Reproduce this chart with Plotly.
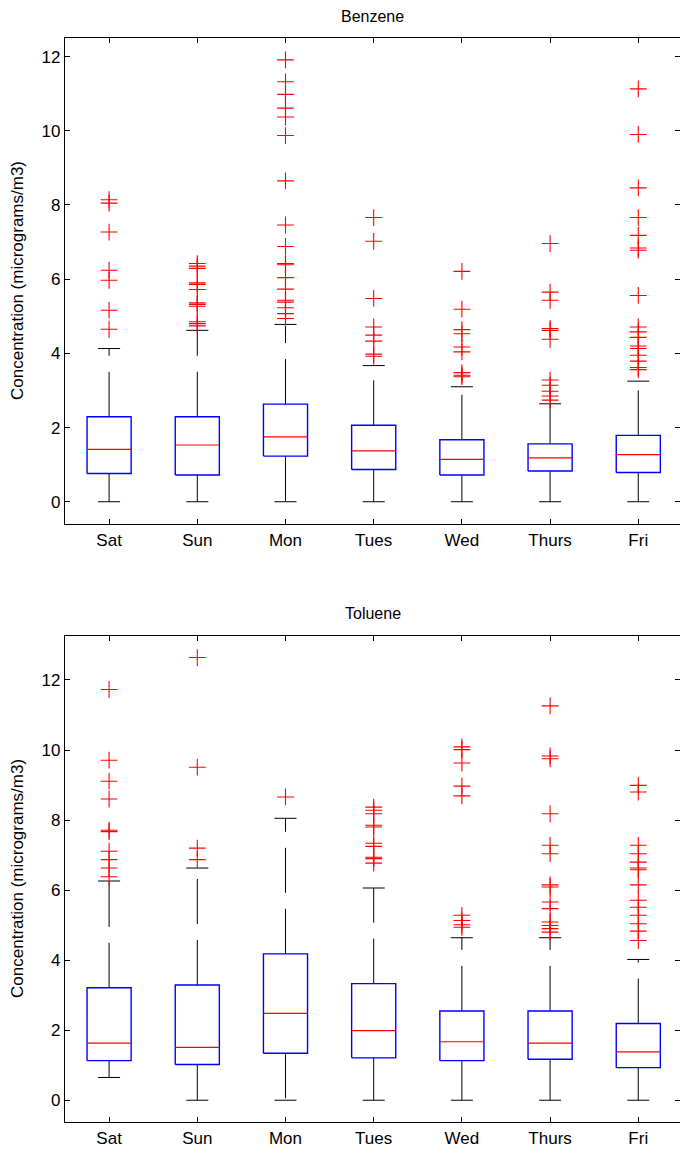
import plotly.graph_objects as go
from plotly.subplots import make_subplots

days = ["Sat", "Sun", "Mon", "Tues", "Wed", "Thurs", "Fri"]
y_ticks = [0, 2, 4, 6, 8, 10, 12]

# Benzene box statistics per day
benz_q1 = [0.76, 0.72, 1.23, 0.87, 0.72, 0.83, 0.79]
benz_med = [1.41, 1.53, 1.75, 1.37, 1.14, 1.18, 1.27]
benz_q3 = [2.29, 2.29, 2.63, 2.06, 1.67, 1.56, 1.79]
benz_lo = [0.0, 0.0, 0.0, 0.0, 0.0, 0.0, 0.0]
benz_hi = [4.13, 4.62, 4.78, 3.67, 3.10, 2.64, 3.25]
benz_out = [
    [8.14, 8.05, 7.27, 6.24, 5.97, 5.16, 4.65],
    [6.42, 6.35, 6.29, 5.90, 5.86, 5.72, 5.36, 5.32, 5.27, 4.85, 4.80, 4.74],
    [11.91, 11.32, 10.98, 10.61, 10.37, 9.87, 8.65, 7.46, 6.88, 6.42, 6.39,
     6.04, 5.73, 5.43, 5.38, 5.23, 5.07, 4.94],
    [7.66, 7.02, 5.48, 4.71, 4.49, 4.33, 3.98, 3.92],
    [6.21, 5.19, 4.64, 4.53, 4.17, 4.04, 3.48, 3.41, 3.37],
    [6.96, 5.65, 5.43, 4.67, 4.62, 4.38, 3.28, 3.14, 2.98, 2.85, 2.74],
    [11.13, 9.90, 8.46, 7.66, 7.18, 6.84, 6.78, 5.56, 4.71, 4.58, 4.43, 4.20,
     4.13, 3.95, 3.79, 3.62, 3.56],
]

# Toluene box statistics per day
tol_q1 = [1.13, 1.02, 1.34, 1.21, 1.13, 1.17, 0.93]
tol_med = [1.63, 1.51, 2.48, 1.99, 1.67, 1.63, 1.38]
tol_q3 = [3.21, 3.29, 4.18, 3.33, 2.55, 2.55, 2.19]
tol_lo = [0.65, 0.0, 0.0, 0.0, 0.0, 0.0, 0.0]
tol_hi = [6.26, 6.63, 8.05, 6.06, 4.64, 4.64, 4.02]
tol_out = [
    [11.73, 9.71, 9.11, 8.60, 7.71, 7.67, 7.11, 6.87, 6.63, 6.38],
    [12.64, 9.51, 7.20, 6.87],
    [8.66],
    [8.37, 8.28, 8.18, 7.85, 7.80, 7.34, 7.25, 6.94, 6.90, 6.77],
    [10.09, 10.01, 9.63, 8.97, 8.69, 5.28, 5.13, 5.01, 4.94],
    [11.26, 9.83, 9.75, 8.18, 7.28, 7.04, 6.15, 6.09, 5.66, 5.47, 5.09, 4.99,
     4.90, 4.80],
    [8.99, 8.80, 7.28, 7.04, 6.80, 6.63, 6.58, 6.15, 5.71, 5.51, 5.28, 5.04,
     4.83, 4.56],
]

panels = [
    ("Benzene", benz_q1, benz_med, benz_q3, benz_lo, benz_hi, benz_out, [-0.6, 12.5]),
    ("Toluene", tol_q1, tol_med, tol_q3, tol_lo, tol_hi, tol_out, [-0.63, 13.27]),
]

BOX_HALF = 0.25
CAP_HALF = 0.125
FONT = "Liberation Sans, Arial, sans-serif"

fig = make_subplots(rows=2, cols=1, vertical_spacing=0.1)

for row, (name, q1, med, q3, lo, hi, outs, yr) in enumerate(panels, start=1):
    for i in range(len(days)):
        x = i + 1
        # whiskers, dashed, drawn outward from the box
        for start, end in ((q3[i], hi[i]), (q1[i], lo[i])):
            fig.add_trace(go.Scatter(
                x=[x, x], y=[start, end], mode="lines",
                line=dict(color="black", width=1, dash="45px,16px"),
                hoverinfo="skip", showlegend=False), row=row, col=1)
        # whisker caps
        for v in (hi[i], lo[i]):
            fig.add_trace(go.Scatter(
                x=[x - CAP_HALF, x + CAP_HALF], y=[v, v], mode="lines",
                line=dict(color="black", width=1),
                hoverinfo="skip", showlegend=False), row=row, col=1)
        # box
        fig.add_trace(go.Scatter(
            x=[x - BOX_HALF, x + BOX_HALF, x + BOX_HALF, x - BOX_HALF, x - BOX_HALF],
            y=[q1[i], q1[i], q3[i], q3[i], q1[i]], mode="lines",
            line=dict(color="#0000ff", width=1.4),
            hoverinfo="skip", showlegend=False), row=row, col=1)
        # median
        fig.add_trace(go.Scatter(
            x=[x - BOX_HALF, x + BOX_HALF], y=[med[i], med[i]], mode="lines",
            line=dict(color="#ff0000", width=1.2),
            hoverinfo="skip", showlegend=False), row=row, col=1)
        # outliers
        fig.add_trace(go.Scatter(
            x=[x] * len(outs[i]), y=outs[i], mode="markers",
            marker=dict(symbol="cross-thin", size=12,
                        line=dict(color="#ff0000", width=1.1)),
            hoverinfo="skip", showlegend=False), row=row, col=1)

axis_common = dict(
    showline=True, linecolor="black", linewidth=1.2, mirror="ticks",
    ticks="inside", ticklen=5, tickcolor="black", tickwidth=1,
    showgrid=False, zeroline=False,
    tickfont=dict(family=FONT, size=17, color="black"),
)

domains = [[0.54395, 0.96693], [0.02324, 0.44691]]
for row in (1, 2):
    fig.update_xaxes(range=[0.5, 7.473], tickvals=list(range(1, 8)), ticktext=days,
                     domain=[0, 1], row=row, col=1, **axis_common)
    fig.update_yaxes(range=panels[row - 1][7], tickvals=y_ticks,
                     domain=domains[row - 1], row=row, col=1, **axis_common)

annotations = []
for row, (name, *_rest) in enumerate(panels):
    d0, d1 = domains[row]
    annotations.append(dict(
        text=name, xref="paper", yref="paper", x=0.5008, y=d1 + 0.0191,
        xanchor="center", yanchor="middle", showarrow=False,
        font=dict(family=FONT, size=16, color="black")))
    annotations.append(dict(
        text="Concentration (micrograms/m3)", xref="paper", yref="paper",
        x=-0.0764, y=(d0 + d1) / 2, textangle=-90,
        xanchor="center", yanchor="middle", showarrow=False,
        font=dict(family=FONT, size=17, color="black")))

fig.update_layout(
    width=680, height=1149,
    margin=dict(l=65, r=0, t=0, b=0),
    plot_bgcolor="white", paper_bgcolor="white",
    annotations=annotations,
    showlegend=False,
)

fig.write_html("out.html")
